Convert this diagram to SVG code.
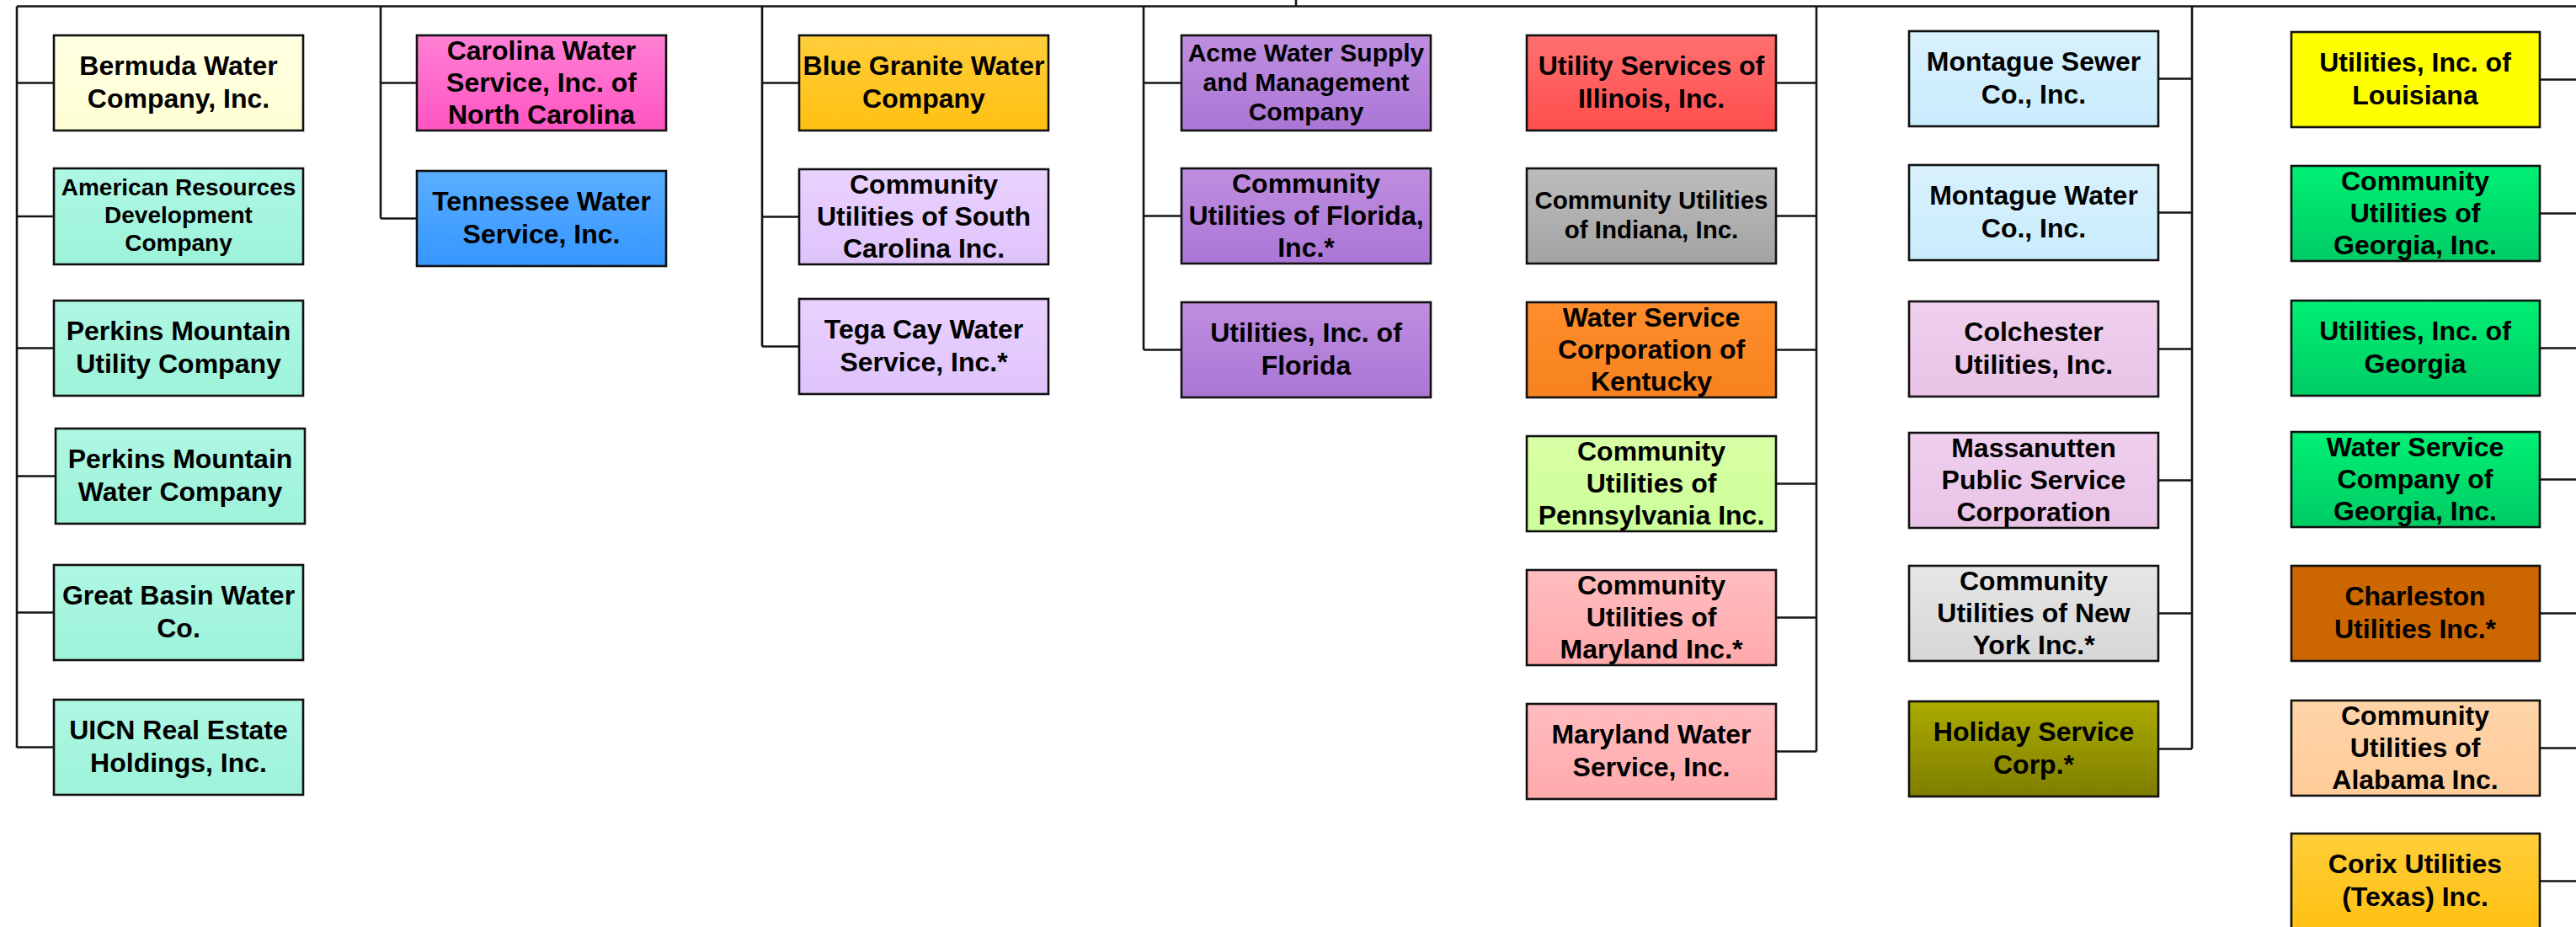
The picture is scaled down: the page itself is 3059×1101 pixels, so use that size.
<svg xmlns="http://www.w3.org/2000/svg" width="3059" height="1101" viewBox="0 0 3059 1101">
<style>
.bx{stroke:#111;stroke-width:2.6}
.t{font-family:"Liberation Sans",Arial,sans-serif;font-weight:bold;font-size:32px;fill:#000;text-anchor:middle}
.s29{font-size:29.5px}
.s30{font-size:30px}
.s27{font-size:28px}
.ln{stroke:#151515;stroke-width:2.6;fill:none}
</style>
<defs>
<linearGradient id="gCream" x1="0" y1="0" x2="0" y2="1"><stop offset="0" stop-color="#FFFFE2"/><stop offset="1" stop-color="#FFFFD4"/></linearGradient>
<linearGradient id="gAqua" x1="0" y1="0" x2="0" y2="1"><stop offset="0" stop-color="#AEF7E4"/><stop offset="1" stop-color="#9DF3D9"/></linearGradient>
<linearGradient id="gPink" x1="0" y1="0" x2="0" y2="1"><stop offset="0" stop-color="#FF80D4"/><stop offset="1" stop-color="#FF55C3"/></linearGradient>
<linearGradient id="gBlue" x1="0" y1="0" x2="0" y2="1"><stop offset="0" stop-color="#5AAEFF"/><stop offset="1" stop-color="#3596FF"/></linearGradient>
<linearGradient id="gGold" x1="0" y1="0" x2="0" y2="1"><stop offset="0" stop-color="#FFCE3A"/><stop offset="1" stop-color="#FFC012"/></linearGradient>
<linearGradient id="gLav" x1="0" y1="0" x2="0" y2="1"><stop offset="0" stop-color="#EAD2FF"/><stop offset="1" stop-color="#DEC3FB"/></linearGradient>
<linearGradient id="gPurp" x1="0" y1="0" x2="0" y2="1"><stop offset="0" stop-color="#BE8EDF"/><stop offset="1" stop-color="#AB76D6"/></linearGradient>
<linearGradient id="gRed" x1="0" y1="0" x2="0" y2="1"><stop offset="0" stop-color="#FF7070"/><stop offset="1" stop-color="#FF4D4D"/></linearGradient>
<linearGradient id="gGray" x1="0" y1="0" x2="0" y2="1"><stop offset="0" stop-color="#BDBDBD"/><stop offset="1" stop-color="#A3A3A3"/></linearGradient>
<linearGradient id="gOrange" x1="0" y1="0" x2="0" y2="1"><stop offset="0" stop-color="#FF8D2B"/><stop offset="1" stop-color="#F7821F"/></linearGradient>
<linearGradient id="gLime" x1="0" y1="0" x2="0" y2="1"><stop offset="0" stop-color="#D9FFA6"/><stop offset="1" stop-color="#CCFF99"/></linearGradient>
<linearGradient id="gRose" x1="0" y1="0" x2="0" y2="1"><stop offset="0" stop-color="#FFBDBF"/><stop offset="1" stop-color="#FFA9AB"/></linearGradient>
<linearGradient id="gSky" x1="0" y1="0" x2="0" y2="1"><stop offset="0" stop-color="#D8F1FC"/><stop offset="1" stop-color="#C9ECFD"/></linearGradient>
<linearGradient id="gOrchid" x1="0" y1="0" x2="0" y2="1"><stop offset="0" stop-color="#F0CFEE"/><stop offset="1" stop-color="#E8C3E6"/></linearGradient>
<linearGradient id="gSilver" x1="0" y1="0" x2="0" y2="1"><stop offset="0" stop-color="#E6E6E6"/><stop offset="1" stop-color="#D7D7D7"/></linearGradient>
<linearGradient id="gOlive" x1="0" y1="0" x2="0" y2="1"><stop offset="0" stop-color="#ABAB00"/><stop offset="1" stop-color="#7E7E00"/></linearGradient>
<linearGradient id="gYellow" x1="0" y1="0" x2="0" y2="1"><stop offset="0" stop-color="#FFFF00"/><stop offset="1" stop-color="#FFFF00"/></linearGradient>
<linearGradient id="gGreen" x1="0" y1="0" x2="0" y2="1"><stop offset="0" stop-color="#00F075"/><stop offset="1" stop-color="#00CC64"/></linearGradient>
<linearGradient id="gBrown" x1="0" y1="0" x2="0" y2="1"><stop offset="0" stop-color="#CC6600"/><stop offset="1" stop-color="#CC6600"/></linearGradient>
<linearGradient id="gPeach" x1="0" y1="0" x2="0" y2="1"><stop offset="0" stop-color="#FFD4A8"/><stop offset="1" stop-color="#FFCC99"/></linearGradient>
</defs>
<rect width="3059" height="1101" fill="#fff"/>
<g id="connectors">
<path class="ln" d="M1539 0V7.5M20 7.5H3059"/>
<path class="ln" d="M20 7.5V888M20 98.5H64M20 257H64M20 413.5H64M20 565.5H66M20 727.5H64M20 887.5H64"/>
<path class="ln" d="M452 7.5V259.5M452 98.5H495M452 259.5H495"/>
<path class="ln" d="M905 7.5V411.5M905 98.5H949M905 257.5H949M905 411.5H949"/>
<path class="ln" d="M1358 7.5V415.5M1358 98.5H1403M1358 256.5H1403M1358 415.5H1403"/>
<path class="ln" d="M2157 7.5V892.5M2109 98.5H2157M2109 256.5H2157M2109 415.5H2157M2109 574.5H2157M2109 733.5H2157M2109 892.5H2157"/>
<path class="ln" d="M2603 7.5V889.5M2563 93.5H2603M2563 252.5H2603M2563 414.5H2603M2563 570.5H2603M2563 728.5H2603M2563 889.5H2603"/>
<path class="ln" d="M3016 94.5H3059M3016 253.5H3059M3016 413.5H3059M3016 569.5H3059M3016 728.5H3059M3016 888.5H3059M3016 1046.5H3059"/>
</g>
<g id="n-bermuda"><rect class="bx" x="64" y="42" width="296" height="113" fill="url(#gCream)"/><text class="t" x="212" y="89">Bermuda Water<tspan x="212" dy="38.5">Company, Inc.</tspan></text></g>
<g id="n-american"><rect class="bx" x="64" y="200" width="296" height="114" fill="url(#gAqua)"/><text class="t s27" x="212" y="232">American Resources<tspan x="212" dy="33">Development</tspan><tspan x="212" dy="33">Company</tspan></text></g>
<g id="n-perkins-utility"><rect class="bx" x="64" y="357" width="296" height="113" fill="url(#gAqua)"/><text class="t" x="212" y="404">Perkins Mountain<tspan x="212" dy="38.5">Utility Company</tspan></text></g>
<g id="n-perkins-water"><rect class="bx" x="66" y="509" width="296" height="113" fill="url(#gAqua)"/><text class="t" x="214" y="556">Perkins Mountain<tspan x="214" dy="38.5">Water Company</tspan></text></g>
<g id="n-great-basin"><rect class="bx" x="64" y="671" width="296" height="113" fill="url(#gAqua)"/><text class="t" x="212" y="718">Great Basin Water<tspan x="212" dy="38.5">Co.</tspan></text></g>
<g id="n-uicn"><rect class="bx" x="64" y="831" width="296" height="113" fill="url(#gAqua)"/><text class="t" x="212" y="878">UICN Real Estate<tspan x="212" dy="38.5">Holdings, Inc.</tspan></text></g>

<g id="n-carolina"><rect class="bx" x="495" y="42" width="296" height="113" fill="url(#gPink)"/><text class="t" x="643" y="71">Carolina Water<tspan x="643" dy="38">Service, Inc. of</tspan><tspan x="643" dy="38">North Carolina</tspan></text></g>
<g id="n-tennessee"><rect class="bx" x="495" y="203" width="296" height="113" fill="url(#gBlue)"/><text class="t" x="643" y="250">Tennessee Water<tspan x="643" dy="38.5">Service, Inc.</tspan></text></g>

<g id="n-blue-granite"><rect class="bx" x="949" y="42" width="296" height="113" fill="url(#gGold)"/><text class="t" x="1097" y="89">Blue Granite Water<tspan x="1097" dy="38.5">Company</tspan></text></g>
<g id="n-cu-sc"><rect class="bx" x="949" y="201" width="296" height="113" fill="url(#gLav)"/><text class="t" x="1097" y="230">Community<tspan x="1097" dy="38">Utilities of South</tspan><tspan x="1097" dy="38">Carolina Inc.</tspan></text></g>
<g id="n-tega-cay"><rect class="bx" x="949" y="355" width="296" height="113" fill="url(#gLav)"/><text class="t" x="1097" y="402">Tega Cay Water<tspan x="1097" dy="38.5">Service, Inc.*</tspan></text></g>

<g id="n-acme"><rect class="bx" x="1403" y="42" width="296" height="113" fill="url(#gPurp)"/><text class="t s30" x="1551" y="73">Acme Water Supply<tspan x="1551" dy="35">and Management</tspan><tspan x="1551" dy="35">Company</tspan></text></g>
<g id="n-cu-florida"><rect class="bx" x="1403" y="200" width="296" height="113" fill="url(#gPurp)"/><text class="t" x="1551" y="229">Community<tspan x="1551" dy="38">Utilities of Florida,</tspan><tspan x="1551" dy="38">Inc.*</tspan></text></g>
<g id="n-ui-florida"><rect class="bx" x="1403" y="359" width="296" height="113" fill="url(#gPurp)"/><text class="t" x="1551" y="406">Utilities, Inc. of<tspan x="1551" dy="38.5">Florida</tspan></text></g>

<g id="n-illinois"><rect class="bx" x="1813" y="42" width="296" height="113" fill="url(#gRed)"/><text class="t" x="1961" y="89">Utility Services of<tspan x="1961" dy="38.5">Illinois, Inc.</tspan></text></g>
<g id="n-indiana"><rect class="bx" x="1813" y="200" width="296" height="113" fill="url(#gGray)"/><text class="t s29" x="1961" y="248">Community Utilities<tspan x="1961" dy="35">of Indiana, Inc.</tspan></text></g>
<g id="n-kentucky"><rect class="bx" x="1813" y="359" width="296" height="113" fill="url(#gOrange)"/><text class="t" x="1961" y="388">Water Service<tspan x="1961" dy="38">Corporation of</tspan><tspan x="1961" dy="38">Kentucky</tspan></text></g>
<g id="n-pennsylvania"><rect class="bx" x="1813" y="518" width="296" height="113" fill="url(#gLime)"/><text class="t" x="1961" y="547">Community<tspan x="1961" dy="38">Utilities of</tspan><tspan x="1961" dy="38">Pennsylvania Inc.</tspan></text></g>
<g id="n-maryland"><rect class="bx" x="1813" y="677" width="296" height="113" fill="url(#gRose)"/><text class="t" x="1961" y="706">Community<tspan x="1961" dy="38">Utilities of</tspan><tspan x="1961" dy="38">Maryland Inc.*</tspan></text></g>
<g id="n-maryland-water"><rect class="bx" x="1813" y="836" width="296" height="113" fill="url(#gRose)"/><text class="t" x="1961" y="883">Maryland Water<tspan x="1961" dy="38.5">Service, Inc.</tspan></text></g>

<g id="n-montague-sewer"><rect class="bx" x="2267" y="37" width="296" height="113" fill="url(#gSky)"/><text class="t" x="2415" y="84">Montague Sewer<tspan x="2415" dy="38.5">Co., Inc.</tspan></text></g>
<g id="n-montague-water"><rect class="bx" x="2267" y="196" width="296" height="113" fill="url(#gSky)"/><text class="t" x="2415" y="243">Montague Water<tspan x="2415" dy="38.5">Co., Inc.</tspan></text></g>
<g id="n-colchester"><rect class="bx" x="2267" y="358" width="296" height="113" fill="url(#gOrchid)"/><text class="t" x="2415" y="405">Colchester<tspan x="2415" dy="38.5">Utilities, Inc.</tspan></text></g>
<g id="n-massanutten"><rect class="bx" x="2267" y="514" width="296" height="113" fill="url(#gOrchid)"/><text class="t" x="2415" y="543">Massanutten<tspan x="2415" dy="38">Public Service</tspan><tspan x="2415" dy="38">Corporation</tspan></text></g>
<g id="n-cu-newyork"><rect class="bx" x="2267" y="672" width="296" height="113" fill="url(#gSilver)"/><text class="t" x="2415" y="701">Community<tspan x="2415" dy="38">Utilities of New</tspan><tspan x="2415" dy="38">York Inc.*</tspan></text></g>
<g id="n-holiday"><rect class="bx" x="2267" y="833" width="296" height="113" fill="url(#gOlive)"/><text class="t" x="2415" y="880">Holiday Service<tspan x="2415" dy="38.5">Corp.*</tspan></text></g>

<g id="n-louisiana"><rect class="bx" x="2721" y="38" width="295" height="113" fill="url(#gYellow)"/><text class="t" x="2868" y="85">Utilities, Inc. of<tspan x="2868" dy="38.5">Louisiana</tspan></text></g>
<g id="n-cu-georgia"><rect class="bx" x="2721" y="197" width="295" height="113" fill="url(#gGreen)"/><text class="t" x="2868" y="226">Community<tspan x="2868" dy="38">Utilities of</tspan><tspan x="2868" dy="38">Georgia, Inc.</tspan></text></g>
<g id="n-ui-georgia"><rect class="bx" x="2721" y="357" width="295" height="113" fill="url(#gGreen)"/><text class="t" x="2868" y="404">Utilities, Inc. of<tspan x="2868" dy="38.5">Georgia</tspan></text></g>
<g id="n-wsc-georgia"><rect class="bx" x="2721" y="513" width="295" height="113" fill="url(#gGreen)"/><text class="t" x="2868" y="542">Water Service<tspan x="2868" dy="38">Company of</tspan><tspan x="2868" dy="38">Georgia, Inc.</tspan></text></g>
<g id="n-charleston"><rect class="bx" x="2721" y="672" width="295" height="113" fill="url(#gBrown)"/><text class="t" x="2868" y="719">Charleston<tspan x="2868" dy="38.5">Utilities Inc.*</tspan></text></g>
<g id="n-cu-alabama"><rect class="bx" x="2721" y="832" width="295" height="113" fill="url(#gPeach)"/><text class="t" x="2868" y="861">Community<tspan x="2868" dy="38">Utilities of</tspan><tspan x="2868" dy="38">Alabama Inc.</tspan></text></g>
<g id="n-corix"><rect class="bx" x="2721" y="990" width="295" height="113" fill="url(#gGold)"/><text class="t" x="2868" y="1037">Corix Utilities<tspan x="2868" dy="38.5">(Texas) Inc.</tspan></text></g>
</svg>
